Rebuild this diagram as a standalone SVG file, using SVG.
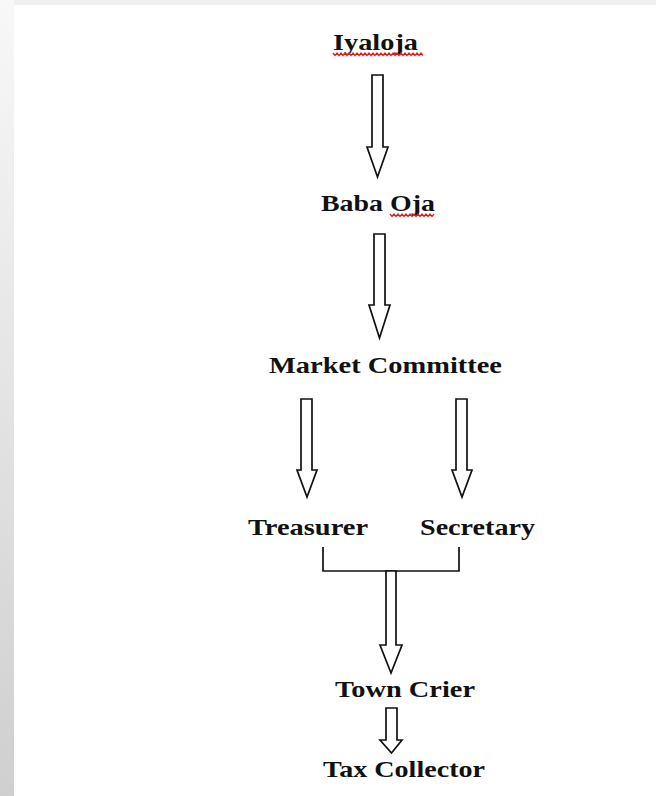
<svg xmlns="http://www.w3.org/2000/svg" width="656" height="796" viewBox="0 0 656 796">
<defs>
<linearGradient id="side" x1="0" y1="0" x2="0" y2="1">
<stop offset="0" stop-color="#f8f8f8"/>
<stop offset="1" stop-color="#cfcfcf"/>
</linearGradient>
<style>
.lbl{font-family:"Liberation Serif","Times New Roman",serif;font-weight:bold;font-size:23px;fill:#111}
.arr{fill:#fff;stroke:#111;stroke-width:1.7;stroke-linejoin:miter}
.sq{fill:none;stroke:#e02020;stroke-width:1.3}
</style>
</defs>
<rect width="656" height="796" fill="#fff"/>
<rect x="0" y="0" width="656" height="5" fill="#f0f0f0"/>
<rect x="0" y="0" width="14" height="796" fill="url(#side)"/>

<g id="iyaloja">
<text class="lbl" x="333" y="50" textLength="85" lengthAdjust="spacingAndGlyphs">Iyaloja</text>
<path class="sq" d="M333 53 l2 2.5 l2 -2.5 l2 2.5 l2 -2.5 l2 2.5 l2 -2.5 l2 2.5 l2 -2.5 l2 2.5 l2 -2.5 l2 2.5 l2 -2.5 l2 2.5 l2 -2.5 l2 2.5 l2 -2.5 l2 2.5 l2 -2.5 l2 2.5 l2 -2.5 l2 2.5 l2 -2.5 l2 2.5 l2 -2.5 l2 2.5 l2 -2.5 l2 2.5 l2 -2.5 l2 2.5 l2 -2.5 l2 2.5 l2 -2.5 l2 2.5 l2 -2.5 l2 2.5 l2 -2.5 l2 2.5 l2 -2.5 l2 2.5 l2 -2.5 l2 2.5 l2 -2.5 l2 2.5 l2 -2.5 l2 2.5"/>
</g>
<g id="baba-oja">
<text class="lbl" x="321" y="211" textLength="114" lengthAdjust="spacingAndGlyphs">Baba Oja</text>
<path class="sq" d="M390 214 l2 2.5 l2 -2.5 l2 2.5 l2 -2.5 l2 2.5 l2 -2.5 l2 2.5 l2 -2.5 l2 2.5 l2 -2.5 l2 2.5 l2 -2.5 l2 2.5 l2 -2.5 l2 2.5 l2 -2.5 l2 2.5 l2 -2.5 l2 2.5 l2 -2.5 l2 2.5 l2 -2.5"/>
</g>
<g id="market-committee">
<text class="lbl" x="269" y="373" textLength="233" lengthAdjust="spacingAndGlyphs">Market Committee</text>
</g>
<g id="treasurer">
<text class="lbl" x="248" y="535" textLength="120" lengthAdjust="spacingAndGlyphs">Treasurer</text>
</g>
<g id="secretary">
<text class="lbl" x="420" y="535" textLength="115" lengthAdjust="spacingAndGlyphs">Secretary</text>
</g>
<g id="town-crier">
<text class="lbl" x="335" y="697" textLength="140" lengthAdjust="spacingAndGlyphs">Town Crier</text>
</g>
<g id="tax-collector">
<text class="lbl" x="323" y="777" textLength="162" lengthAdjust="spacingAndGlyphs">Tax Collector</text>
</g>

<g id="connectors">
<polygon class="arr" points="372,75 383,75 383,147 388,147 377.5,177 367,147 372,147"/>
<polygon class="arr" points="374,234 385,234 385,305 390,305 379.5,338 369,305 374,305"/>
<polygon class="arr" points="301,399 312,399 312,470 317,470 307,497 297,470 301,470"/>
<polygon class="arr" points="456,399 467,399 467,470 472,470 462,497 452,470 456,470"/>
<polyline points="323,547 323,571 459,571 459,547" fill="none" stroke="#111" stroke-width="1.7"/>
<polygon class="arr" points="386,571 396,571 396,645 402,645 391,673 380,645 386,645"/>
<polygon class="arr" points="386,708 397,708 397,740 402,740 391.5,753 380,740 386,740"/>
</g>
</svg>
